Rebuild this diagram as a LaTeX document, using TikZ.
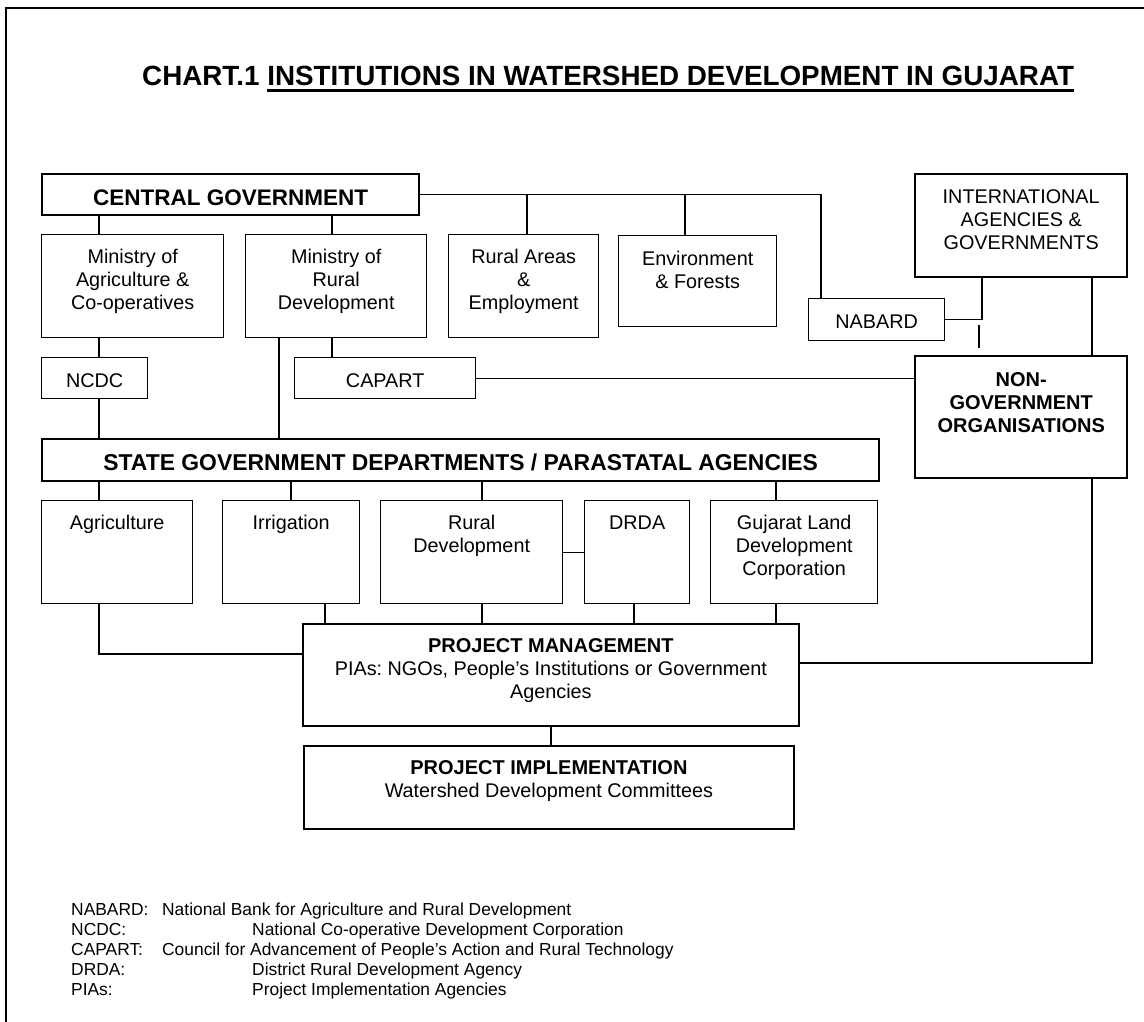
\documentclass[tikz,border=0pt]{standalone}
\usepackage{fontspec}
\setmainfont{Liberation Sans}
\frenchspacing
\newcommand*{\BoxText}[4]{\parbox[c][#2pt][t]{#1pt}{\centering\rule{0pt}{#3pt}#4}}
\newcommand*{\TitleUnder}[1]{\setbox0=\hbox{#1}\rlap{\rule[-6.5pt]{\wd0}{3pt}}\box0}
\newcommand*{\BoldLine}{\fontsize{20}{23}\selectfont\bfseries}

\begin{document}
\begin{tikzpicture}[x=1pt,y=-1pt,
    box/.style={draw, line width=1.4pt, inner sep=0pt, anchor=north west,
      font=\fontsize{19.8}{23}\selectfont},
    thickbox/.style={box, line width=2.4pt},
    midbox/.style={box, line width=1.8pt},
    heavy/.style={font=\fontsize{22.5}{23}\selectfont\bfseries},
    strong/.style={font=\BoldLine},
    link/.style={line width=1.3pt}]
  \useasboundingbox (0,0) rectangle (1144,1022);
  \draw[line width=1.6pt] (6,1022) -- (6,8) -- (1144,8);
  \node[anchor=base west, inner sep=0pt, font=\fontsize{27.8}{30}\selectfont\bfseries] (title) at (142,86)
    {CHART.1 \TitleUnder{INSTITUTIONS IN WATERSHED DEVELOPMENT IN GUJARAT}};

  % central level
  \node[thickbox, heavy] (central) at (41,173) {\BoxText{377}{41}{31}{CENTRAL GOVERNMENT}};
  \node[box] (minagri) at (41,234) {\BoxText{182}{103}{29}{Ministry of\\Agriculture \&\\Co-operatives}};
  \node[box] (minrural) at (245,234) {\BoxText{181}{103}{29}{Ministry of\\Rural\\Development}};
  \node[box] (ruralareas) at (448,234) {\BoxText{150}{103}{29}{Rural Areas\\\&\\Employment}};
  \node[box] (envforest) at (618,235) {\BoxText{158}{91}{30}{Environment\\\& Forests}};
  \node[box] (nabard) at (808,298) {\BoxText{136}{42}{30}{NABARD}};
  \node[thickbox] (intl) at (914,173) {\BoxText{212}{103}{29}{INTERNATIONAL\\AGENCIES \&\\GOVERNMENTS}};
  \node[box] (ncdc) at (41,357) {\BoxText{106}{41}{30}{NCDC}};
  \node[box] (capart) at (294,357) {\BoxText{181}{41}{30}{CAPART}};
  \node[thickbox, strong] (ngo) at (914,355) {\BoxText{212}{122}{30}{NON-\\GOVERNMENT\\ORGANISATIONS}};

  % state level
  \node[thickbox, font=\fontsize{22.9}{23}\selectfont\bfseries] (state) at (41,438)
    {\BoxText{837}{42}{31}{STATE GOVERNMENT DEPARTMENTS / PARASTATAL AGENCIES}};
  \node[box] (agri) at (41,500) {\BoxText{151}{103}{29}{Agriculture}};
  \node[box] (irrig) at (222,500) {\BoxText{137}{103}{29}{Irrigation}};
  \node[box] (ruraldev) at (380,500) {\BoxText{182}{103}{29}{Rural\\Development}};
  \node[box] (drda) at (584,500) {\BoxText{105}{103}{29}{DRDA}};
  \node[box] (gujarat) at (710,500) {\BoxText{167}{103}{29}{Gujarat Land\\Development\\Corporation}};

  % project level
  \node[midbox] (pm) at (302,623) {\BoxText{496}{102}{29}{{\BoldLine PROJECT MANAGEMENT}\\
    PIAs: NGOs, People’s Institutions or Government\\Agencies}};
  \node[midbox] (pi) at (303,745) {\BoxText{490}{83}{29}{{\BoldLine PROJECT IMPLEMENTATION}\\
    Watershed Development Committees}};

  \coordinate (colA) at (99,0);
  \coordinate (colB) at (332,0);
  \coordinate (colC) at (279,0);
  \coordinate (colD) at (527,0);
  \coordinate (colE) at (685,0);
  \coordinate (colF) at (821,0);
  \coordinate (colG) at (291,0);
  \coordinate (colH) at (482,0);
  \coordinate (colJ) at (776,0);
  \coordinate (colK) at (325,0);
  \coordinate (colL) at (634,0);
  \coordinate (colI) at (982,0);
  \coordinate (colN) at (1092,0);
  \coordinate (rowA) at (0,654);
  \coordinate (rowN) at (0,663);
  \coordinate (stubtop) at (979,325);
  \coordinate (stubend) at (979,348);

  \draw[link] (central.east) -| (nabard.north -| colF);
  \foreach \c/\n in {colD/ruralareas, colE/envforest}
    \draw[link] (central.east -| \c) -- (\n.north -| \c);
  \draw[link] (central.south -| colA) -- (minagri.north -| colA);
  \draw[link] (central.south -| colB) -- (minrural.north -| colB);
  \draw[link] (minagri.south -| colA) -- (ncdc.north -| colA);
  \draw[link] (ncdc.south -| colA) -- (state.north -| colA);
  \draw[link] (minrural.south -| colB) -- (capart.north -| colB);
  \draw[link] (minrural.south -| colC) -- (state.north -| colC);
  \draw[link] (capart.east) -- (capart.east -| ngo.west);
  \draw[link] (intl.south -| colI) |- (nabard.east);
  \draw[link] (stubtop) -- (stubend);
  \draw[link] (intl.south -| colN) -- (ngo.north -| colN);
  \foreach \c/\n in {colA/agri, colG/irrig, colH/ruraldev, colJ/gujarat}
    \draw[link] (state.south -| \c) -- (\n.north -| \c);
  \draw[link] (ruraldev.east) -- (ruraldev.east -| drda.west);
  \draw[link] (agri.south -| colA) |- (pm.west |- rowA);
  \foreach \c/\n in {colK/irrig, colH/ruraldev, colL/drda, colJ/gujarat}
    \draw[link] (\n.south -| \c) -- (pm.north -| \c);
  \draw[link] (ngo.south -| colN) |- (pm.east |- rowN);
  \draw[link] (pm.south) -- (pm.south |- pi.north);

  % abbreviations
  \node[anchor=base west, inner sep=0pt, font=\fontsize{17.4}{20}\selectfont] (legend) at (71,915)
    {\parbox[t]{800pt}{\raggedright
      \makebox[91pt][l]{NABARD:}National Bank for Agriculture and Rural Development\\
      \makebox[181pt][l]{NCDC:}National Co-operative Development Corporation\\
      \makebox[91pt][l]{CAPART:}Council for Advancement of People’s Action and Rural Technology\\
      \makebox[181pt][l]{DRDA:}District Rural Development Agency\\
      \makebox[181pt][l]{PIAs:}Project Implementation Agencies}};
\end{tikzpicture}
\end{document}
